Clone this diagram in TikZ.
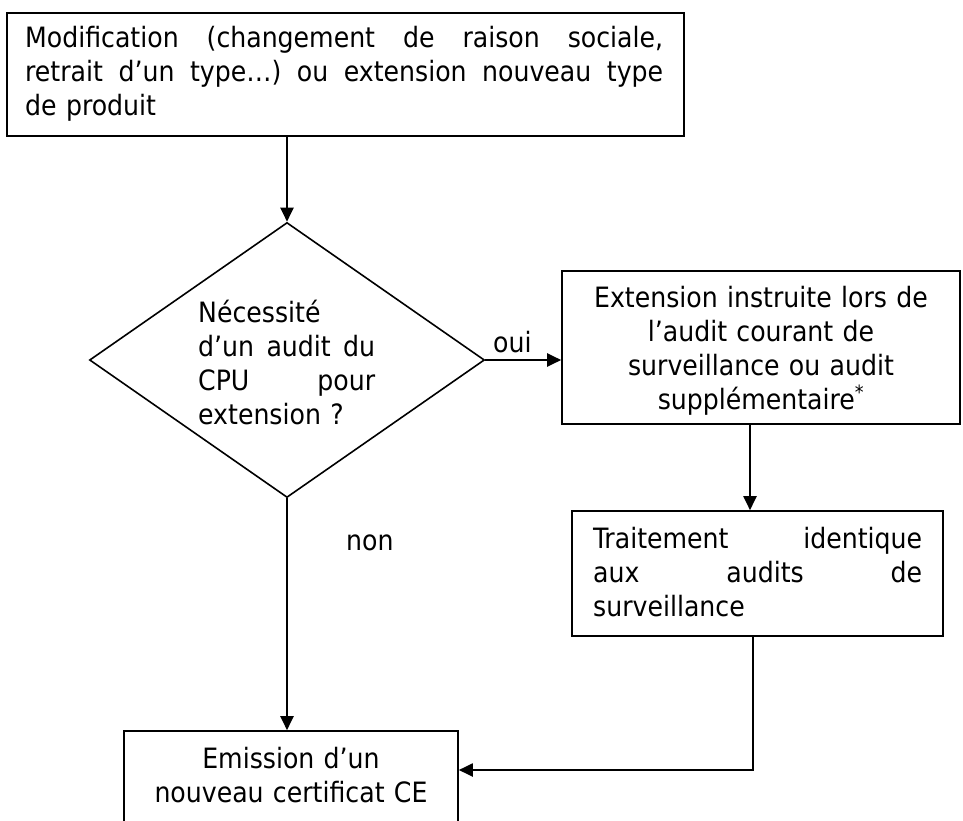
\documentclass[tikz,border=0pt]{standalone}
\usepackage{fontspec}
\setmainfont{DejaVu Sans Condensed}
\usetikzlibrary{arrows.meta,shapes.geometric}
\newcommand{\jline}[2]{{\spaceskip=\fontdimen2\font plus 1fil\relax
  \xspaceskip=\spaceskip\makebox[#1][s]{#2}}}
\begin{document}
\begin{tikzpicture}[x=1pt,y=-1pt,
  box/.style={draw, line width=1.6pt, inner sep=0pt, rectangle},
  txt/.style={inner sep=0pt, font=\fontsize{28}{34}\selectfont},
  conn/.style={line width=2pt},
  arr/.style={conn, -{Triangle[length=14pt,width=13pt]}}]
\useasboundingbox (0,0) rectangle (963,821);
\clip (0,0) rectangle (963,821);

% boxes
\node[box, minimum width=677pt, minimum height=123pt] (b1) at (345.5,74.5) {};
\node[draw, diamond, line width=1.6pt, minimum width=395pt, minimum height=275pt, inner sep=0pt] (dia) at (287,360) {};
\node[box, minimum width=398pt, minimum height=153pt] (b2) at (761,347.5) {};
\node[box, minimum width=371pt, minimum height=125pt] (b3) at (757.5,573.5) {};
\node[box, minimum width=334pt, minimum height=140pt] (b4) at (291,801) {};

% texts
\node[txt, text width=638pt, align=left, anchor=base west] (t1) at (25,48)
  {\jline{638pt}{Modification (changement de raison sociale,}\\
   \jline{638pt}{retrait d’un type…) ou extension nouveau type}\\
   de produit};
\node[txt, text width=177pt, align=left, anchor=base west] (tdia) at (198,322)
  {Nécessité\\
   \jline{177pt}{d’un audit du}\\
   \jline{177pt}{CPU pour}\\
   extension ?};
\node[txt, text width=398pt, align=center, anchor=base] (t2) at (761,307)
  {Extension instruite lors de\\ l’audit courant de\\ surveillance ou audit\\ supplémentaire\textsuperscript{*}};
\node[txt, text width=329pt, align=left, anchor=base west] (t3) at (593,548)
  {\jline{329pt}{Traitement identique}\\
   \jline{329pt}{aux audits de}\\
   surveillance};
\node[txt, text width=334pt, align=center, anchor=base] (t4) at (291,768)
  {Emission d’un\\ nouveau certificat CE};

% labels
\node[txt, anchor=base west] (oui) at (493,352) {oui};
\node[txt, anchor=base west] (non) at (346,550) {non};

% connectors
\draw[arr] (dia.north |- b1.south) -- (dia.north);
\draw[arr] (dia.east) -- (dia.east -| b2.west);
\coordinate (c23) at (750,0);
\draw[arr] (b2.south -| c23) -- (b3.north -| c23);
\coordinate (c34) at (753,770);
\draw[arr] (b3.south -| c34) -- (c34) -- (c34 -| b4.east);
\draw[arr] (dia.south) -- (dia.south |- b4.north);
\end{tikzpicture}
\end{document}
